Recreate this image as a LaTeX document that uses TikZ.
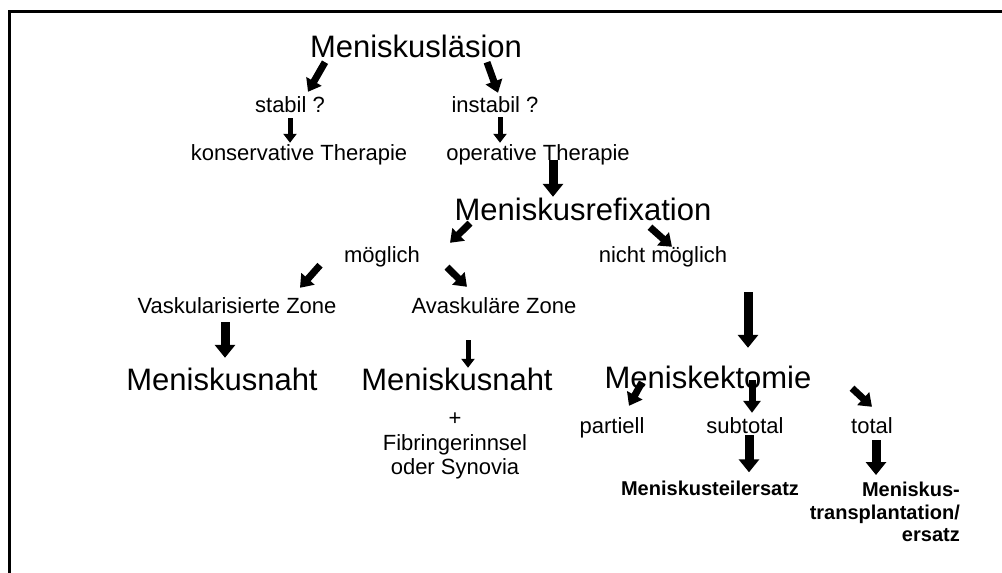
\documentclass[tikz,border=0pt]{standalone}
\usepackage{fontspec}
\setmainfont{Liberation Sans}
\usetikzlibrary{arrows.meta}

\begin{document}
\begin{tikzpicture}[x=1pt, y=-1pt,
    big/.style={font=\fontsize{31}{31}\selectfont, inner sep=0pt, text height=23pt, text depth=6pt, anchor=base},
    small/.style={font=\fontsize{22}{24}\selectfont, inner sep=0pt, text height=16pt, text depth=5pt, anchor=base},
    heavy/.style={font=\fontsize{20}{22.5}\selectfont\bfseries, inner sep=0pt},
    arrowthin/.style={line width=5pt, -{Triangle[width=13pt,length=9pt]}},
    arrowmid/.style={line width=7pt, -{Triangle[width=17pt,length=12pt]}},
    arrowfat/.style={line width=9pt, -{Triangle[width=20pt,length=13pt]}}]

\useasboundingbox (0,0) rectangle (1002,573);

% frame
\draw[line width=3pt] (9,573) -- (9,11) -- (1002,11);

% first level
\node[big] (lasion) at (416,57) {Meniskusläsion};
\node[small] (stabil) at (290,112) {stabil ?};
\node[small] (instabil) at (495,112) {instabil ?};
\node[small] (konserv) at (299,160) {konservative Therapie};
\node[small] (operativ) at (538,160) {operative Therapie};

% refixation
\node[big] (refix) at (583,220) {Meniskusrefixation};
\node[small] (moeglich) at (382,262) {möglich};
\node[small] (nichtmoeg) at (663,262) {nicht möglich};
\node[small] (vask) at (237,313) {Vaskularisierte Zone};
\node[small] (avask) at (494,313) {Avaskuläre Zone};
\node[big] (naht1) at (222,390) {Meniskusnaht};
\node[big] (naht2) at (457,390) {Meniskusnaht};
\node[font=\fontsize{22}{24}\selectfont, inner sep=0pt, align=center, anchor=north] (fibrin) at (455,413)
    {+\\[1pt]Fibringerinnsel\\oder Synovia};

% meniskektomie
\node[big] (ektomie) at (708,388) {Meniskektomie};
\node[small] (partiell) at (612,433) {partiell};
\node[small] (subtotal) at (745,433) {subtotal};
\node[small] (total) at (872,433) {total};
\node[heavy, anchor=base] (teilersatz) at (710,495) {Meniskusteilersatz};
\node[heavy, align=right, anchor=north east] (transplant) at (960,482)
    {Meniskus-\\transplantation/\\ersatz};

% arrows
\draw[arrowmid] ([shift={(-91,-1)}]lasion.south) -- ([shift={(18,-4)}]stabil.north);
\draw[arrowmid] ([shift={(71,-1)}]lasion.south) -- ([shift={(3,-3)}]instabil.north);
\draw[arrowthin] ([shift={(0,1)}]stabil.south) -- ([shift={(-9,-1)}]konserv.north);
\draw[arrowthin] ([shift={(5,0)}]instabil.south) -- ([shift={(-38,-1)}]operativ.north);
\draw[arrowfat] ([shift={(15,-5)}]operativ.south) -- ([shift={(-30,0)}]refix.north);

\draw[arrowmid] ([shift={(-113,-3)}]refix.south) -- ([shift={(68,-3)}]moeglich.north);
\draw[arrowmid] ([shift={(67,1)}]refix.south) -- ([shift={(9,1)}]nichtmoeg.north);
\draw[arrowmid] ([shift={(-62,-2)}]moeglich.south) -- ([shift={(63,-9)}]vask.north);
\draw[arrowmid] ([shift={(65,0)}]moeglich.south) -- ([shift={(-27,-10)}]avask.north);
\draw[arrowfat] ([shift={(-12,4)}]vask.south) -- ([shift={(3,-9)}]naht1.north);
\draw[arrowthin] ([shift={(-26,22)}]avask.south) -- ([shift={(11,1)}]naht2.north);
\draw[arrowfat] ([shift={(85,25)}]nichtmoeg.south) -- ([shift={(40,-17)}]ektomie.north);

\draw[arrowmid] ([shift={(-66,-12)}]ektomie.south) -- ([shift={(17,-11)}]partiell.north);
\draw[arrowmid] ([shift={(44,-14)}]ektomie.south) -- ([shift={(7,-4)}]subtotal.north);
\draw[arrowmid] ([shift={(144,-6)}]ektomie.south) -- ([shift={(0,-10)}]total.north);
\draw[arrowfat] ([shift={(4,-3)}]subtotal.south) -- ([shift={(39,-8)}]teilersatz.north);
\draw[arrowfat] ([shift={(4,2)}]total.south) -- ([shift={(-84,-7)}]transplant.north east);

\end{tikzpicture}
\end{document}
